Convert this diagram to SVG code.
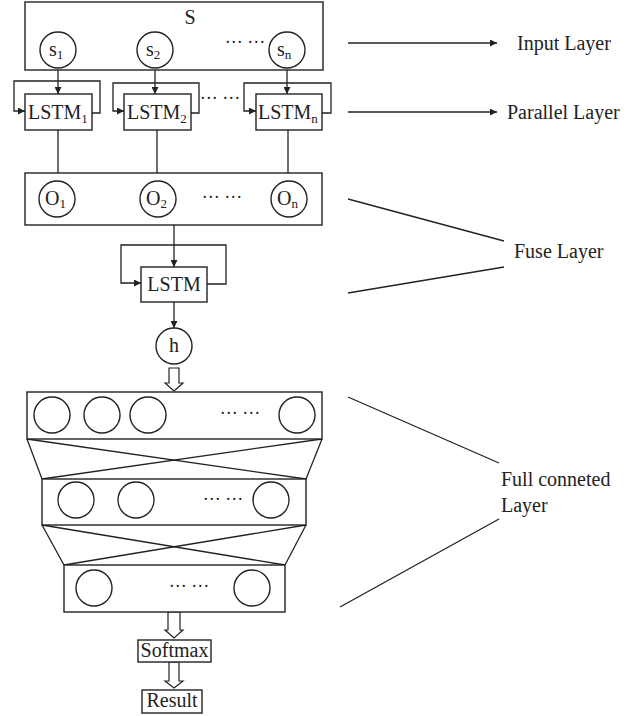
<svg xmlns="http://www.w3.org/2000/svg" width="639" height="716" viewBox="0 0 639 716">
<defs>
<marker id="ah" viewBox="0 0 10 10" refX="10" refY="5" markerWidth="7" markerHeight="7" markerUnits="userSpaceOnUse" orient="auto">
<path d="M0,0 L10,5 L0,10 z" fill="#222"/>
</marker>
<style>
.b{fill:#fff;stroke:#222;stroke-width:1.4}
.c{fill:none;stroke:#222;stroke-width:1.4}
.l{fill:none;stroke:#222;stroke-width:1.3}
.a{fill:none;stroke:#222;stroke-width:1.3;marker-end:url(#ah)}
.h{fill:#fff;stroke:#222;stroke-width:1.2}
text{font-size:20px;fill:#222}
.m{text-anchor:middle}
.d{font-size:18px;text-anchor:middle}
.s{font-size:13px}
</style>
</defs>

<g id="connectors">
<line class="a" x1="58" y1="68" x2="58" y2="94"/>
<line class="a" x1="155" y1="68" x2="155" y2="94"/>
<line class="a" x1="287" y1="68" x2="287" y2="94"/>
<polyline class="a" points="92,113 100,113 100,81 14,81 14,111 25,111"/>
<polyline class="a" points="191,113 199,113 199,83 113,83 113,111 124,111"/>
<polyline class="a" points="322,113 331,113 331,83 244,83 244,111 256,111"/>
<line class="l" x1="58" y1="130" x2="58" y2="173"/>
<line class="l" x1="157" y1="130" x2="157" y2="173"/>
<line class="l" x1="288" y1="130" x2="288" y2="173"/>
<line class="a" x1="174" y1="225" x2="174" y2="267"/>
<polyline class="a" points="207,284 226,284 226,245 121,245 121,283 141,283"/>
<line class="a" x1="174" y1="302" x2="174" y2="328"/>
<polygon class="h" points="169,368 179,368 179,383 183,383 174,391 165,383 169,383"/>
<polygon class="h" points="168,612 180,612 180,630 183,630 174,638 165,630 168,630"/>
<polygon class="h" points="169,662 179,662 179,681 183,681 174,688 165,681 169,681"/>
<line class="l" x1="27" y1="439" x2="42" y2="479"/>
<line class="l" x1="322" y1="439" x2="306" y2="479"/>
<line class="l" x1="27" y1="439" x2="306" y2="479"/>
<line class="l" x1="322" y1="439" x2="42" y2="479"/>
<line class="l" x1="42" y1="525" x2="64" y2="565"/>
<line class="l" x1="306" y1="525" x2="285" y2="565"/>
<line class="l" x1="42" y1="525" x2="285" y2="565"/>
<line class="l" x1="306" y1="525" x2="64" y2="565"/>
<line class="a" x1="348" y1="43" x2="497" y2="43"/>
<line class="a" x1="348" y1="112" x2="497" y2="112"/>
<line class="l" x1="348" y1="199" x2="504" y2="241"/>
<line class="l" x1="348" y1="293" x2="504" y2="267"/>
<line class="l" x1="348" y1="397" x2="499" y2="463"/>
<line class="l" x1="340" y1="607" x2="499" y2="519"/>
</g>

<g font-family="'Liberation Serif', 'DejaVu Serif', 'Times New Roman', serif">
<g id="input-layer">
<rect class="b" x="25" y="2" width="298" height="68"/>
<text class="m" x="190" y="24">S</text>
<circle class="c" cx="58" cy="50" r="18"/>
<text x="49" y="56">s<tspan class="s" dy="3">1</tspan></text>
<circle class="c" cx="155" cy="50" r="18"/>
<text x="146" y="56">s<tspan class="s" dy="3">2</tspan></text>
<text class="d" x="245" y="48">··· ···</text>
<circle class="c" cx="287" cy="50" r="18"/>
<text x="277" y="56">s<tspan class="s" dy="3">n</tspan></text>
</g>

<g id="lstm1">
<rect class="b" x="25" y="94" width="67" height="36"/>
<text x="28" y="119">LSTM<tspan class="s" dy="4">1</tspan></text>
</g>
<g id="lstm2">
<rect class="b" x="124" y="94" width="67" height="36"/>
<text x="127" y="119">LSTM<tspan class="s" dy="4">2</tspan></text>
</g>
<text class="d" x="220" y="104">··· ···</text>
<g id="lstmn">
<rect class="b" x="256" y="94" width="66" height="36"/>
<text x="258" y="119">LSTM<tspan class="s" dy="4">n</tspan></text>
</g>

<g id="output-layer">
<rect class="b" x="25" y="173" width="297" height="52"/>
<circle class="c" cx="57" cy="199" r="18"/>
<text x="45" y="205">O<tspan class="s" dy="3">1</tspan></text>
<circle class="c" cx="158" cy="199" r="18"/>
<text x="146" y="205">O<tspan class="s" dy="3">2</tspan></text>
<text class="d" x="222" y="203">··· ···</text>
<circle class="c" cx="289" cy="199" r="18"/>
<text x="277" y="205">O<tspan class="s" dy="3">n</tspan></text>
</g>

<g id="fuse-lstm">
<rect class="b" x="141" y="267" width="66" height="35"/>
<text class="m" x="174" y="291">LSTM</text>
</g>

<g id="h">
<circle class="c" cx="174" cy="346" r="18"/>
<text class="m" x="174" y="352">h</text>
</g>

<g id="fc1">
<rect class="b" x="27" y="392" width="295" height="47"/>
<circle class="c" cx="52" cy="415" r="18"/>
<circle class="c" cx="102" cy="415" r="18"/>
<circle class="c" cx="148" cy="415" r="18"/>
<text class="d" x="240" y="419">··· ···</text>
<circle class="c" cx="297" cy="415" r="18"/>
</g>

<g id="fc2">
<rect class="b" x="42" y="479" width="264" height="46"/>
<circle class="c" cx="76" cy="500" r="18"/>
<circle class="c" cx="136" cy="500" r="18"/>
<text class="d" x="223" y="505">··· ···</text>
<circle class="c" cx="271" cy="500" r="18"/>
</g>

<g id="fc3">
<rect class="b" x="64" y="565" width="221" height="47"/>
<circle class="c" cx="94" cy="588" r="18"/>
<text class="d" x="189" y="592">··· ···</text>
<circle class="c" cx="252" cy="588" r="18"/>
</g>

<g id="softmax">
<rect class="b" x="138" y="640" width="73" height="22"/>
<text class="m" x="174.5" y="657">Softmax</text>
</g>

<g id="result">
<rect class="b" x="142" y="690" width="60" height="23"/>
<text class="m" x="172" y="707">Result</text>
</g>

<g id="labels">
<text x="517" y="50">Input Layer</text>
<text x="507" y="119">Parallel Layer</text>
<text x="514" y="258">Fuse Layer</text>
<text x="501" y="486">Full conneted</text>
<text x="501" y="512">Layer</text>
</g>
</g>
</svg>
